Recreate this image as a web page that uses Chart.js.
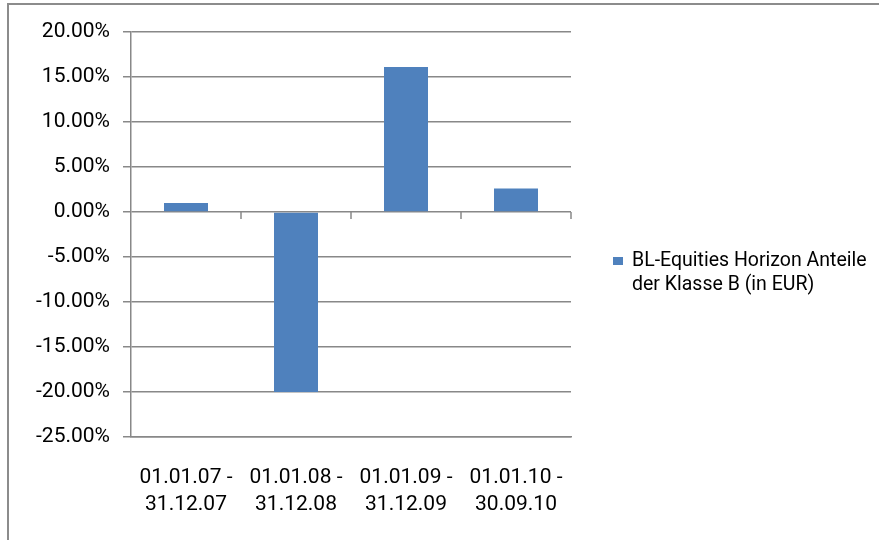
<!DOCTYPE html>
<html>
<head>
<meta charset="utf-8">
<script src="https://cdn.jsdelivr.net/npm/chart.js@4"></script>
<style>
  body { margin: 0; background: #fff; }
  #wrap { position: relative; width: 879px; height: 540px; overflow: hidden; }
  #frame { position: absolute; left: 7px; top: 3px; width: 900px; height: 600px; border: 2px solid #8c8c8c; }
  #legend { position: absolute; left: 613px; top: 248px; font: 19.5px Roboto, sans-serif; color: #000; }
  #legend .row { display: flex; }
  #legend .box { width: 10px; height: 8px; background: #4f81bd; margin-top: 9px; margin-right: 9px; flex: none; }
  #legend .txt { line-height: 24px; white-space: nowrap; }
</style>
</head>
<body>
<div id="wrap">
  <canvas id="myChart" width="879" height="540"></canvas>
  <div id="frame"></div>
  <div id="legend"></div>
</div>
<script>
const categories = [
  ["01.01.07 -", "31.12.07"],
  ["01.01.08 -", "31.12.08"],
  ["01.01.09 -", "31.12.09"],
  ["01.01.10 -", "30.09.10"],
];
const seriesLabel = ["BL-Equities Horizon Anteile", "der Klasse B (in EUR)"];
const seriesValues = [1.0, -20.0, 16.1, 2.6];
const yMin = -25;
const yMax = 20;
const yStep = 5;

const axisColor = "#888888";
const barColor = "#4f81bd";

// legend on the right, two lines like the original
const legend = document.getElementById("legend");
legend.innerHTML =
  '<div class="row"><div class="box"></div><div class="txt">' +
  seriesLabel.join("<br>") +
  "</div></div>";

// small tick marks on the zero line between the categories
const zeroTicks = {
  id: "zeroTicks",
  afterDatasetsDraw(chart) {
    const x = chart.scales.x;
    const y = chart.scales.y;
    const y0 = y.getPixelForValue(0);
    const step = x.width / categories.length;
    const c = chart.ctx;
    c.save();
    c.strokeStyle = axisColor;
    c.lineWidth = 1.5;
    for (let i = 1; i <= categories.length; i++) {
      const px = x.left + i * step;
      c.beginPath();
      c.moveTo(px, y0);
      c.lineTo(px, y0 + 7);
      c.stroke();
    }
    c.restore();
  },
};

const ctx = document.getElementById("myChart").getContext("2d");
const myChart = new Chart(ctx, {
  type: "bar",
  data: {
    labels: categories,
    datasets: [
      {
        label: seriesLabel.join(" "),
        data: seriesValues,
        backgroundColor: barColor,
        borderWidth: 0,
        barPercentage: 0.4,
        categoryPercentage: 1.0,
      },
    ],
  },
  options: {
    responsive: false,
    animation: false,
    layout: { padding: { left: 0, top: 32, right: 308, bottom: 0 } },
    plugins: {
      legend: { display: false },
      tooltip: { enabled: false },
    },
    scales: {
      x: {
        afterFit(s) { s.height = 103; },
        grid: { display: false, drawTicks: false },
        border: { display: true, color: axisColor, width: 1.5 },
        ticks: {
          color: "#000",
          padding: 28,
          maxRotation: 0,
          font: { family: "Roboto", size: 21, lineHeight: 1.26 },
        },
      },
      y: {
        min: yMin,
        max: yMax,
        afterFit(s) { s.width = 131; },
        grid: { color: axisColor, lineWidth: 1.5, tickLength: 8 },
        border: { color: axisColor, width: 1.5 },
        ticks: {
          stepSize: yStep,
          color: "#000",
          padding: 13,
          font: { family: "Roboto", size: 21 },
          callback: (v) => v.toFixed(2) + "%",
        },
      },
    },
  },
  plugins: [zeroTicks],
});
</script>
</body>
</html>
